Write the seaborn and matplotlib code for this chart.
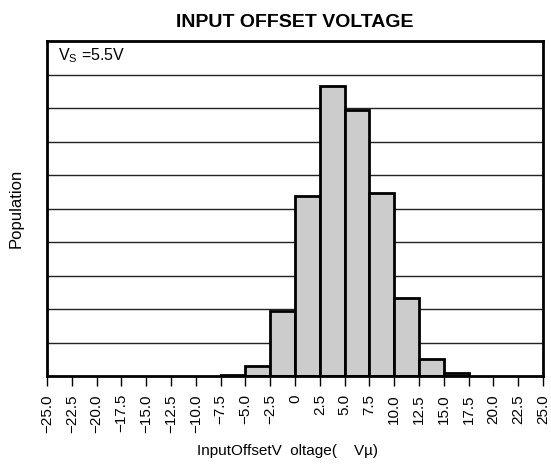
import matplotlib
matplotlib.use("Agg")
import matplotlib.pyplot as plt
import seaborn as sns
import numpy as np
import pandas as pd

# Data
bin_left = [-7.5, -5.0, -2.5, 0.0, 2.5, 5.0, 7.5, 10.0, 12.5, 15.0]
population = [0.04, 0.30, 1.95, 5.37, 8.66, 7.94, 5.47, 2.33, 0.52, 0.09]
bin_width = 2.5
tick_values = [-25.0, -22.5, -20.0, -17.5, -15.0, -12.5, -10.0, -7.5, -5.0, -2.5,
               0.0, 2.5, 5.0, 7.5, 10.0, 12.5, 15.0, 17.5, 20.0, 22.5, 25.0]
tick_labels = ["\u221225.0", "\u221222.5", "\u221220.0", "\u221217.5", "\u221215.0",
               "\u221212.5", "\u221210.0", "\u22127.5", "\u22125.0", "\u22122.5",
               "0", "2.5", "5.0", "7.5", "10.0", "12.5", "15.0", "17.5", "20.0",
               "22.5", "25.0"]
title = "INPUT OFFSET VOLTAGE"
xlabel = "InputOffsetV  oltage(    V\u00b5)"
ylabel = "Population"
note = "V$_\\mathregular{S}$ =5.5V"

sns.set_style("white")
plt.rcParams["font.family"] = ["Liberation Sans", "DejaVu Sans"]
plt.rcParams["text.color"] = "black"
plt.rcParams["axes.labelcolor"] = "black"
plt.rcParams["xtick.color"] = "black"
plt.rcParams["xtick.labelcolor"] = "black"

df = pd.DataFrame({"center": np.array(bin_left) + bin_width / 2,
                   "pop": population})
edges = list(bin_left) + [bin_left[-1] + bin_width]

fig = plt.figure(figsize=(5.51, 4.66), dpi=100)
ax = fig.add_axes([0.0853, 0.193, 0.9002, 0.719])

ax.set_ylim(0, 10)
ax.set_xlim(-25, 25)
for yv in range(1, 10):
    ax.axhline(yv, color="#222222", lw=1.0, zorder=0)

sns.histplot(data=df, x="center", weights="pop", bins=edges, ax=ax,
             color="#cccccc", edgecolor="black", linewidth=2.0, alpha=1,
             zorder=2)

ax.set_yticks([])
ax.set_xticks(tick_values)
ax.set_xticklabels(tick_labels, rotation=90, fontsize=11, color="black")
ax.tick_params(axis="x", direction="out", length=7, width=1, color="black",
               pad=6, bottom=True)
for s in ax.spines.values():
    s.set_linewidth(2.0)
    s.set_color("black")
    s.set_visible(True)

ax.set_xlabel(xlabel, fontsize=11, color="black")
ax.xaxis.set_label_coords(0.485, -0.225)
ax.xaxis.label.set_va("center")
ax.set_ylabel(ylabel, fontsize=12, color="black")
ax.yaxis.set_label_coords(-0.063, 0.5)
ax.yaxis.label.set_va("center")
ax.set_title(title, fontsize=14, fontweight="bold", pad=10, color="black")
ax.text(0.022, 0.955, note, transform=ax.transAxes, fontsize=11.5,
        ha="left", va="center", color="black")

fig.savefig("out.png", dpi=100)
